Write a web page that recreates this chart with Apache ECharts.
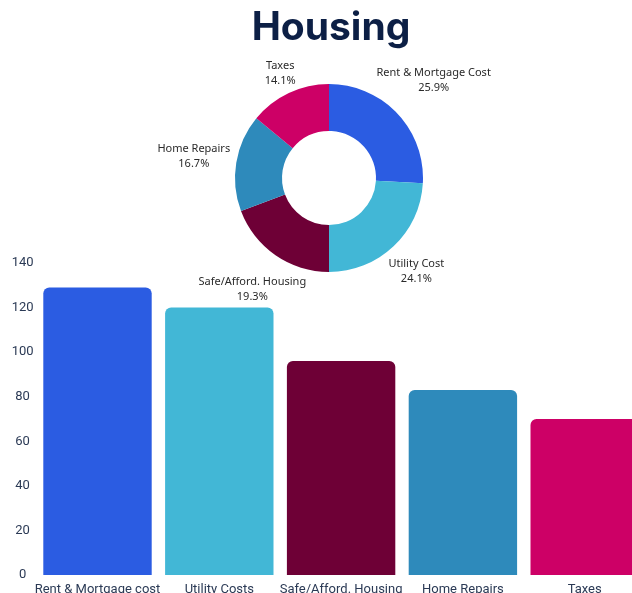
<!DOCTYPE html>
<html>
<head>
<meta charset="utf-8">
<script src="https://cdn.jsdelivr.net/npm/echarts@6/dist/echarts.min.js"></script>
<style>
html,body{margin:0;padding:0;background:#fff;}
#main{width:632px;height:593px;}
</style>
</head>
<body>
<div id="main"></div>
<script>
const barCategories = ['Rent & Mortgage cost', 'Utility Costs', 'Safe/Afford. Housing', 'Home Repairs', 'Taxes'];
const pieNames = ['Rent & Mortgage Cost', 'Utility Cost', 'Safe/Afford. Housing', 'Home Repairs', 'Taxes'];
const values = [129, 120, 96, 83, 70];
const colors = ['#2B5CE2', '#42B7D6', '#6E0036', '#2E8ABB', '#CD0066'];
const yTicks = [0, 20, 40, 60, 80, 100, 120, 140];

const chart = echarts.init(document.getElementById('main'));
const total = values.reduce((a, b) => a + b, 0);
const pieData = pieNames.map((n, i) => ({ name: n, value: values[i], itemStyle: { color: colors[i] } }));
const labelNudge = [[8, -6], [-4, -3], [-1, 2], [-4, 0], [8, 16]];

chart.setOption({
  animation: false,
  backgroundColor: '#ffffff',
  title: {
    text: 'Housing',
    left: 326,
    textAlign: 'center',
    top: 4,
    textStyle: { fontFamily: 'Inter', fontWeight: 'bold', fontSize: 39, color: '#0C1F45' }
  },
  grid: { left: 36.6, width: 609, top: 263, bottom: 18, containLabel: false, outerBoundsMode: 'none' },
  xAxis: {
    type: 'category',
    data: barCategories,
    axisLine: { show: false },
    axisTick: { show: false },
    axisLabel: { color: '#2B3A55', fontSize: 13, fontFamily: 'Roboto', margin: 8, interval: 0 }
  },
  yAxis: {
    type: 'value',
    min: yTicks[0],
    max: yTicks[yTicks.length - 1],
    interval: 20,
    splitLine: { show: false },
    axisLine: { show: false },
    axisTick: { show: false },
    axisLabel: { color: '#2B3A55', fontSize: 13, fontFamily: 'Roboto', align: 'center', margin: 14 }
  },
  series: [
    {
      type: 'bar',
      data: values.map((v, i) => ({ value: v, itemStyle: { color: colors[i] } })),
      barWidth: '89%',
      itemStyle: { borderRadius: [6, 6, 0, 0] }
    },
    {
      type: 'pie',
      center: [329, 178],
      radius: [47, 94],
      startAngle: 90,
      clockwise: true,
      data: pieData,
      label: { show: false },
      labelLine: { show: false },
      silent: true
    },
    {
      type: 'pie',
      center: [329, 178],
      radius: [100, 160],
      startAngle: 90,
      clockwise: true,
      data: pieNames.map((n, i) => ({ name: n, value: values[i], label: { offset: labelNudge[i] } })),
      itemStyle: { color: 'rgba(0,0,0,0)' },
      label: {
        show: true,
        position: 'inside',
        formatter: p => p.name + '\n' + (p.value / total * 100).toFixed(1) + '%',
        color: '#2A2A2A',
        fontSize: 11,
        fontFamily: 'Noto Sans',
        lineHeight: 15,
        align: 'center'
      },
      labelLine: { show: false },
      silent: true
    }
  ]
});
</script>
</body>
</html>
